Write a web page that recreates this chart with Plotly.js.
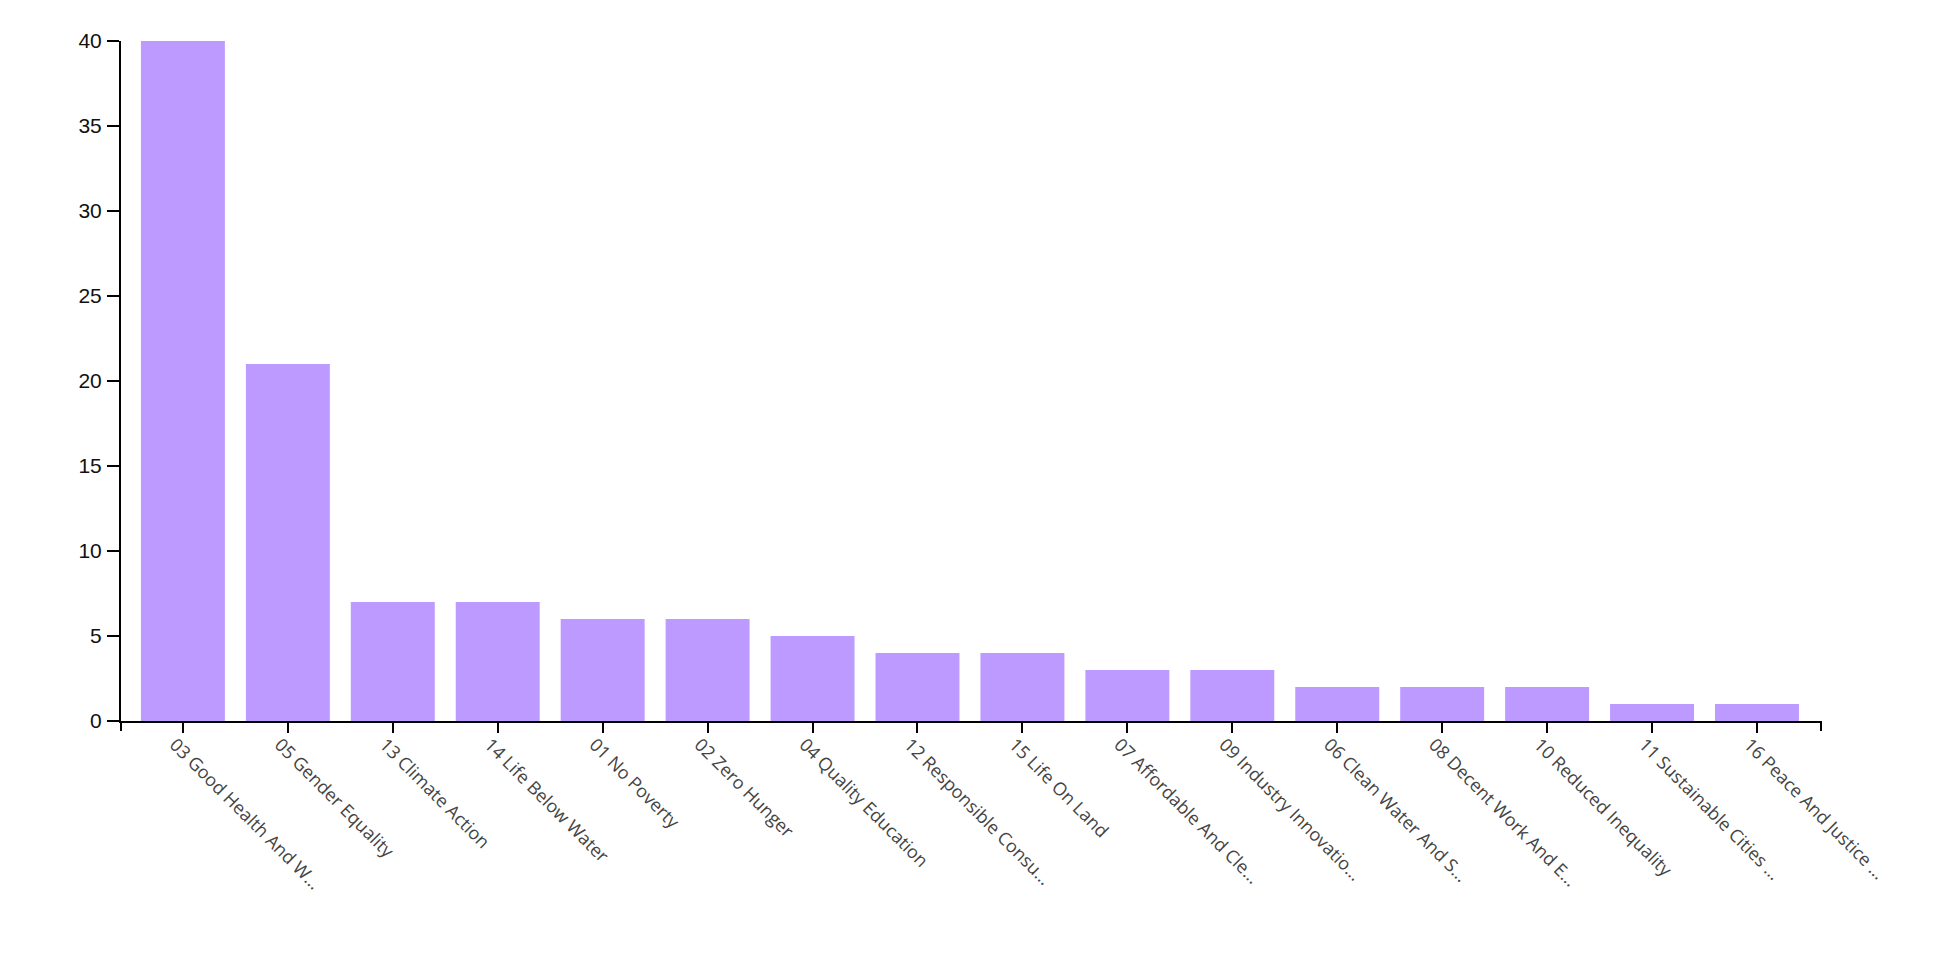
<!DOCTYPE html>
<html>
<head>
<meta charset="utf-8">
<script src="https://cdn.plot.ly/plotly-3.0.1.min.js"></script>
<style>
  html, body { margin: 0; padding: 0; background: #fff; }
  #chart { width: 1960px; height: 960px; }
</style>
</head>
<body>
<div id="chart"></div>
<script>
const categories = [
  "03 Good Health And W…",
  "05 Gender Equality",
  "13 Climate Action",
  "14 Life Below Water",
  "01 No Poverty",
  "02 Zero Hunger",
  "04 Quality Education",
  "12 Responsible Consu…",
  "15 Life On Land",
  "07 Affordable And Cle…",
  "09 Industry Innovatio…",
  "06 Clean Water And S…",
  "08 Decent Work And E…",
  "10 Reduced Inequality",
  "11 Sustainable Cities …",
  "16 Peace And Justice …"
];
const counts = [40, 21, 7, 7, 6, 6, 5, 4, 4, 3, 3, 2, 2, 2, 1, 1];
const yTicks = [0, 5, 10, 15, 20, 25, 30, 35, 40];

const trace = {
  type: "bar",
  x: categories,
  y: counts,
  marker: { color: "#bd9aff", line: { width: 0 } },
  hoverinfo: "x+y"
};

const outerTick = (xv) => ({
  type: "line", xref: "paper", yref: "paper",
  ysizemode: "pixel", yanchor: 0,
  x0: xv, x1: xv, y0: 0, y1: -10,
  line: { color: "#000", width: 2 }
});

const layout = {
  width: 1960, height: 960,
  margin: { l: 121, r: 139, t: 41, b: 239 },
  paper_bgcolor: "#fff", plot_bgcolor: "#fff",
  showlegend: false,
  bargap: 0.2,
  xaxis: {
    type: "category",
    range: [-0.59, 15.61],
    showline: true, linecolor: "#000", linewidth: 2,
    ticks: "outside", ticklen: 10, tickwidth: 2, tickcolor: "#000",
    tickangle: 45,
    ticklabelstandoff: -6,
    ticklabelshift: -8,
    tickfont: { family: "Open Sans, sans-serif", size: 18, color: "#444" },
    showgrid: false, zeroline: false, fixedrange: true
  },
  yaxis: {
    range: [0, 40],
    tickvals: yTicks,
    showline: true, linecolor: "#000", linewidth: 2,
    ticks: "outside", ticklen: 12, tickwidth: 2, tickcolor: "#000",
    ticklabelstandoff: 1,
    tickfont: { family: "Liberation Sans, Arial, sans-serif", size: 21, color: "#111" },
    showgrid: false, zeroline: false, fixedrange: true
  },
  shapes: [outerTick(0), outerTick(1)]
};

Plotly.newPlot("chart", [trace], layout, { displayModeBar: false, staticPlot: true });
</script>
</body>
</html>
